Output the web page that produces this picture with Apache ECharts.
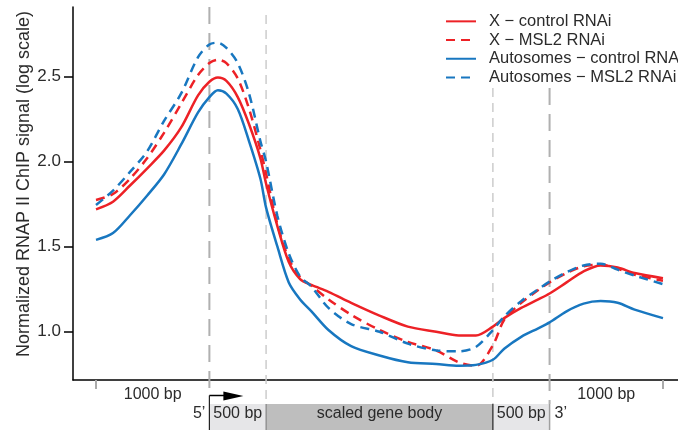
<!DOCTYPE html>
<html>
<head>
<meta charset="utf-8">
<script src="https://cdn.jsdelivr.net/npm/echarts@6/dist/echarts.min.js"></script>
<style>
html,body{margin:0;padding:0;background:#fff;}
#c{width:678px;height:430px;}
</style>
</head>
<body>
<div id="c"></div>
<script>
// x positions in 50-bp bins: 0-20 upstream 1000 bp, 20-30 500 bp, 30-70 scaled gene body, 70-80 500 bp, 80-100 downstream 1000 bp
const bins = [0,3,6,9,12,15,18,20,21.5,23,25,27,29,30,32,34,36,38,41,45,50,55,60,64,67,70,72,75,78,80,83,86,89,92,95,100];
const xControl = [1.72,1.765,1.86,1.96,2.065,2.20,2.39,2.47,2.495,2.475,2.38,2.22,2.02,1.87,1.62,1.41,1.31,1.275,1.235,1.17,1.095,1.03,1.0,0.978,0.978,1.03,1.08,1.14,1.19,1.225,1.29,1.355,1.39,1.378,1.345,1.315];
const xMsl2 = [1.775,1.81,1.90,2.02,2.17,2.34,2.51,2.58,2.60,2.58,2.49,2.31,2.07,1.93,1.63,1.43,1.32,1.27,1.19,1.10,1.01,0.94,0.89,0.82,0.80,0.92,1.07,1.17,1.245,1.29,1.345,1.385,1.395,1.37,1.335,1.30];
const autoControl = [1.54,1.58,1.685,1.80,1.925,2.10,2.29,2.38,2.42,2.40,2.31,2.12,1.90,1.73,1.50,1.29,1.19,1.12,1.01,0.915,0.86,0.82,0.81,0.80,0.805,0.835,0.90,0.97,1.02,1.055,1.12,1.165,1.18,1.17,1.13,1.08];
const autoMsl2 = [1.745,1.83,1.94,2.06,2.24,2.40,2.615,2.69,2.70,2.67,2.58,2.40,2.12,2.00,1.68,1.46,1.325,1.265,1.14,1.045,1.0,0.93,0.89,0.885,0.91,1.01,1.09,1.18,1.25,1.295,1.35,1.39,1.40,1.365,1.33,1.28];
const seriesNames = ['X \u2212 control RNAi','X \u2212 MSL2 RNAi','Autosomes \u2212 control RNA','Autosomes \u2212 MSL2 RNAi'];
const yTicks = [1.0,1.5,2.0,2.5];
const xTickBins = [0,100];
const yTitle = 'Normalized RNAP II ChIP signal (log scale)';

const RED = '#ED2126', BLUE = '#1877C0';
const FONT = "'Liberation Sans', Arial, Helvetica, sans-serif";
const TXT = '#2b2b2b';
const chart = echarts.init(document.getElementById('c'), null, {renderer:'canvas'});
function mk(name, vals, color, dashed){
  return {name, type:'line', data: bins.map((b,i)=>[b, vals[i]]), symbol:'none', smooth:0.3,
    lineStyle:{color, width:2.5, type: dashed ? [9,6] : 'solid'}, itemStyle:{color}, z:3};
}
const option = {
  animation:false,
  textStyle:{fontFamily:FONT},
  grid:{left:73, right:0, top:7, bottom:50, containLabel:false},
  legend:{orient:'vertical', left:440, top:7, padding:5, itemWidth:30, itemHeight:12, itemGap:0,
    itemStyle:{opacity:0},
    textStyle:{fontFamily:FONT, fontSize:16.5, color:TXT, lineHeight:18.7, padding:[0,0,0,8]},
    data: seriesNames},
  xAxis:{type:'value', min:-4.056, max:102.65,
    axisLine:{onZero:false, lineStyle:{color:'#000', width:1.5}},
    axisTick:{show:true, customValues:xTickBins, length:9, lineStyle:{color:'#aaaaaa', width:2}},
    axisLabel:{show:false}, splitLine:{show:false}},
  yAxis:{type:'value', min:0.716, max:2.91,
    axisLine:{show:true, onZero:false, lineStyle:{color:'#000', width:1.5}},
    axisTick:{show:true, customValues:yTicks, length:9, lineStyle:{color:'#000', width:1.5}},
    axisLabel:{customValues:yTicks, formatter:v=>Number(v).toFixed(1), fontSize:17, color:TXT, margin:12, fontFamily:FONT},
    splitLine:{show:false}},
  series:[
    mk(seriesNames[0], xControl, RED, false),
    mk(seriesNames[1], xMsl2, RED, true),
    mk(seriesNames[2], autoControl, BLUE, false),
    mk(seriesNames[3], autoMsl2, BLUE, true)
  ]
};
chart.setOption(option);

const X = v => chart.convertToPixel({xAxisIndex:0}, v);
const [x10,x20,x25,x30,x50,x70,x75,x80,x90] = [10,20,25,30,50,70,75,80,90].map(X);
const boxTop = 404, boxBot = 430;
const dark = {stroke:'#b0b0b0', lineWidth:2, lineDash:[17,9]};
const light = {stroke:'#cccccc', lineWidth:1.5, lineDash:[9,6]};
function vline(x,y1,y2,style){return {type:'line', shape:{x1:x,y1:y1,x2:x,y2:y2}, style:style, z:1, silent:true};}
function txt(t,x,y,align){return {type:'text', x:x, y:y, style:{text:t, fill:TXT, font:'16px '+FONT, textAlign:align||'center', textVerticalAlign:'middle'}, z:5, silent:true};}
chart.setOption({graphic:[
  {type:'rect', shape:{x:x20, y:boxTop, width:x30-x20, height:boxBot-boxTop}, style:{fill:'#e6e6e8'}, z:1},
  {type:'rect', shape:{x:x30, y:boxTop, width:x70-x30, height:boxBot-boxTop}, style:{fill:'#bebebe'}, z:1},
  {type:'rect', shape:{x:x70, y:boxTop, width:x80-x70, height:boxBot-boxTop}, style:{fill:'#e6e6e8'}, z:1},
  vline(x20, 7, 395, dark),
  vline(x30, 15, boxTop, light),
  vline(x70, 88, boxTop, light),
  vline(x80, 88, boxTop, dark),
  vline(x30, boxTop, boxBot, {stroke:'#777', lineWidth:1}),
  vline(x80, boxTop, boxBot, {stroke:'#a0a0a0', lineWidth:1.5}),
  vline(x20, 395.5, boxBot, {stroke:'#222', lineWidth:1.2}),
  vline(x70, boxTop, boxBot, {stroke:'#222', lineWidth:1.2}),
  {type:'line', shape:{x1:x20, y1:395.5, x2:x20+16, y2:395.5}, style:{stroke:'#000', lineWidth:1.5}, z:5},
  {type:'polygon', shape:{points:[[x20+14,391.5],[x20+34,396],[x20+14,400.5]]}, style:{fill:'#000'}, z:5},
  txt('1000 bp', x10, 394.5),
  txt('1000 bp', x90, 394.5),
  txt('5\u2019', x20-4, 414, 'right'),
  txt('500 bp', x25, 414),
  txt('scaled gene body', x50, 414),
  txt('500 bp', x75, 414),
  txt('3\u2019', x80+5, 414, 'left'),
  {type:'text', x:24, y:184, rotation:Math.PI/2, style:{text:yTitle, fill:TXT, font:'18px '+FONT, textAlign:'center', textVerticalAlign:'middle'}, z:5, silent:true}
]});
</script>
</body>
</html>
